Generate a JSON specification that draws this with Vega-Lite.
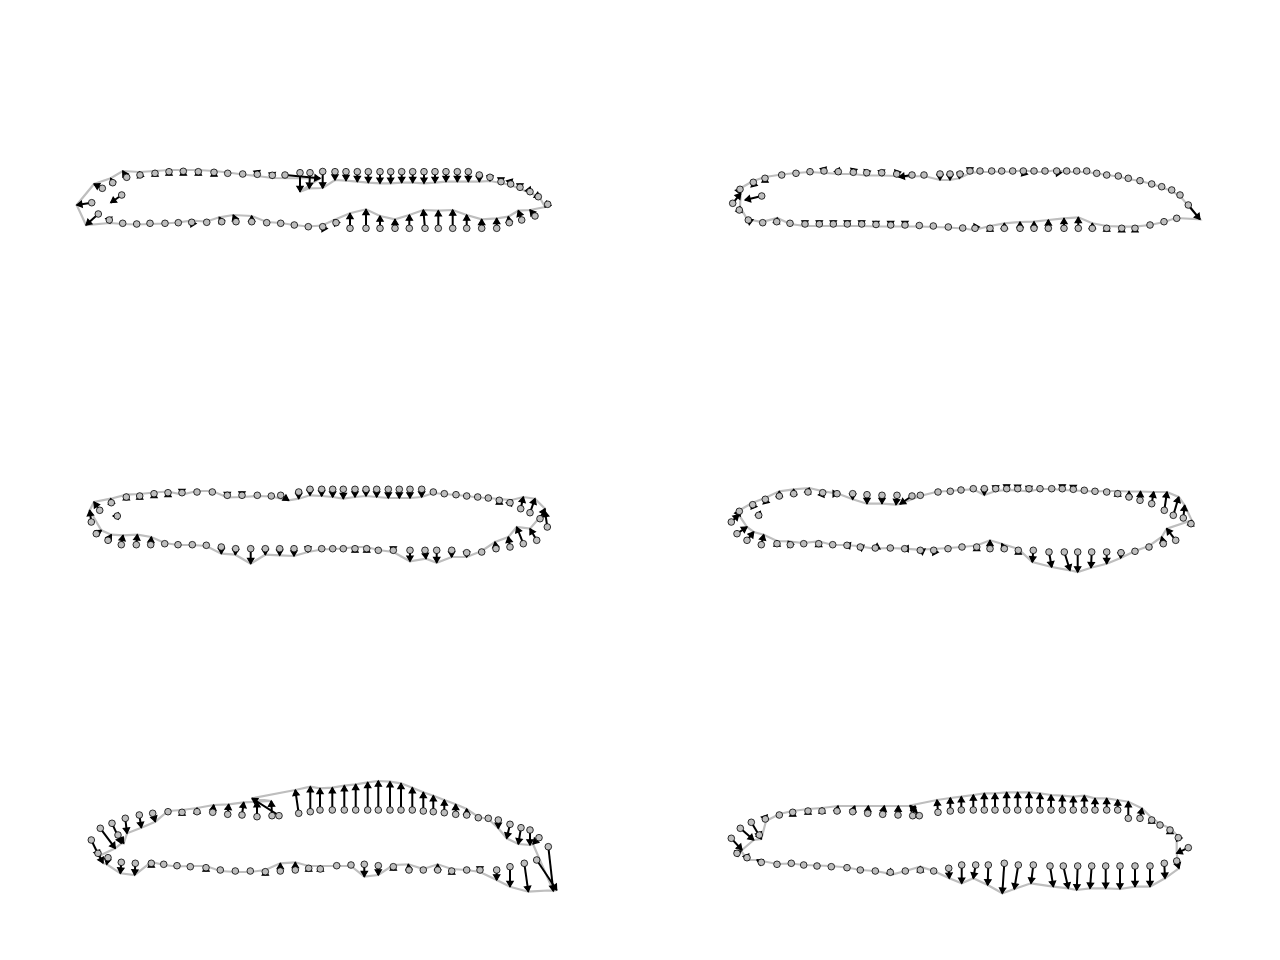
{
"$schema":"https://vega.github.io/schema/vega-lite/v6.json",
"width":1280,"height":960,"autosize":{"type":"fit","contains":"padding"},"padding":0,
"background":"white",
"config":{"view":{"stroke":null}},
"data":{"values":[
{"p":1,"i":1,"x":91.7,"y":202.7,"tx":76.7,"ty":205},
{"p":1,"i":2,"x":102.3,"y":188.3,"tx":94,"ty":184},
{"p":1,"i":3,"x":112.7,"y":182.7,"tx":110.7,"ty":178.3},
{"p":1,"i":4,"x":126.7,"y":177.3,"tx":122.7,"ty":171},
{"p":1,"i":5,"x":140,"y":175,"tx":139.3,"ty":172},
{"p":1,"i":6,"x":155,"y":173.3,"tx":155,"ty":171},
{"p":1,"i":7,"x":169,"y":171.7,"tx":169,"ty":170},
{"p":1,"i":8,"x":183.3,"y":171.3,"tx":183.3,"ty":170},
{"p":1,"i":9,"x":198.3,"y":171.7,"tx":198.3,"ty":170},
{"p":1,"i":10,"x":214,"y":172.3,"tx":214,"ty":171},
{"p":1,"i":11,"x":227.7,"y":173.3,"tx":228,"ty":172.5},
{"p":1,"i":12,"x":242.7,"y":174,"tx":243,"ty":174.5},
{"p":1,"i":13,"x":257.3,"y":174.3,"tx":257.5,"ty":176},
{"p":1,"i":14,"x":272.3,"y":175.3,"tx":272.5,"ty":178},
{"p":1,"i":15,"x":285,"y":175,"tx":320,"ty":178.3},
{"p":1,"i":16,"x":300,"y":172.7,"tx":300,"ty":191.7},
{"p":1,"i":17,"x":310,"y":172.7,"tx":309.3,"ty":188.3},
{"p":1,"i":18,"x":322.7,"y":171.5,"tx":322.7,"ty":188},
{"p":1,"i":19,"x":335,"y":171.7,"tx":335,"ty":180},
{"p":1,"i":20,"x":346,"y":171.7,"tx":346,"ty":180.7},
{"p":1,"i":21,"x":357.3,"y":171.7,"tx":357.3,"ty":181.7},
{"p":1,"i":22,"x":368.3,"y":171.7,"tx":368.3,"ty":182.7},
{"p":1,"i":23,"x":380,"y":171.7,"tx":380,"ty":183.3},
{"p":1,"i":24,"x":390.7,"y":171.7,"tx":390.7,"ty":183.3},
{"p":1,"i":25,"x":401.7,"y":171.7,"tx":401.7,"ty":182.7},
{"p":1,"i":26,"x":412.7,"y":171.7,"tx":412.7,"ty":182.7},
{"p":1,"i":27,"x":424,"y":171.7,"tx":424,"ty":183.3},
{"p":1,"i":28,"x":435,"y":171.7,"tx":435,"ty":182.7},
{"p":1,"i":29,"x":446,"y":171.7,"tx":446,"ty":181.7},
{"p":1,"i":30,"x":457.3,"y":171.7,"tx":457.3,"ty":181.7},
{"p":1,"i":31,"x":468.3,"y":171.7,"tx":468.3,"ty":181.7},
{"p":1,"i":32,"x":479.3,"y":175,"tx":479.3,"ty":181.7},
{"p":1,"i":33,"x":490,"y":177.3,"tx":490,"ty":181},
{"p":1,"i":34,"x":501,"y":181.7,"tx":501,"ty":183},
{"p":1,"i":35,"x":510.7,"y":184,"tx":511,"ty":185},
{"p":1,"i":36,"x":520,"y":187.3,"tx":520,"ty":189},
{"p":1,"i":37,"x":530,"y":191.7,"tx":531,"ty":193},
{"p":1,"i":38,"x":538.3,"y":196.7,"tx":540,"ty":198},
{"p":1,"i":39,"x":547.7,"y":204.3,"tx":545,"ty":207},
{"p":1,"i":40,"x":535,"y":216,"tx":530,"ty":210},
{"p":1,"i":41,"x":521.7,"y":220,"tx":518.3,"ty":210.7},
{"p":1,"i":42,"x":509.3,"y":222.7,"tx":508.3,"ty":216.7},
{"p":1,"i":43,"x":496.7,"y":228.3,"tx":496.7,"ty":218.3},
{"p":1,"i":44,"x":481.7,"y":228.3,"tx":481.7,"ty":219.3},
{"p":1,"i":45,"x":466.7,"y":228.3,"tx":466.7,"ty":215},
{"p":1,"i":46,"x":452.7,"y":228.3,"tx":452.7,"ty":210},
{"p":1,"i":47,"x":438.3,"y":228.3,"tx":438.3,"ty":210.7},
{"p":1,"i":48,"x":425,"y":228.3,"tx":423.3,"ty":210},
{"p":1,"i":49,"x":409.3,"y":228.3,"tx":409.3,"ty":215},
{"p":1,"i":50,"x":395,"y":228.3,"tx":395,"ty":219.3},
{"p":1,"i":51,"x":380,"y":228.3,"tx":380,"ty":216},
{"p":1,"i":52,"x":366,"y":228.3,"tx":366,"ty":209.3},
{"p":1,"i":53,"x":350,"y":228.3,"tx":350,"ty":213.3},
{"p":1,"i":54,"x":336,"y":222.7,"tx":334,"ty":220},
{"p":1,"i":55,"x":322.7,"y":226.7,"tx":322,"ty":225.5},
{"p":1,"i":56,"x":308.3,"y":226.7,"tx":308,"ty":226.5},
{"p":1,"i":57,"x":294.3,"y":225,"tx":294,"ty":225},
{"p":1,"i":58,"x":280.7,"y":223.3,"tx":280.7,"ty":223},
{"p":1,"i":59,"x":266.7,"y":222.7,"tx":266.7,"ty":222},
{"p":1,"i":60,"x":251.7,"y":221.7,"tx":251.7,"ty":216},
{"p":1,"i":61,"x":236,"y":221.7,"tx":233.3,"ty":215},
{"p":1,"i":62,"x":221.7,"y":221.7,"tx":219.3,"ty":217.3},
{"p":1,"i":63,"x":206.7,"y":222.3,"tx":206.7,"ty":221.5},
{"p":1,"i":64,"x":191.7,"y":222.3,"tx":190.7,"ty":220.7},
{"p":1,"i":65,"x":178.3,"y":222.7,"tx":178,"ty":222.5},
{"p":1,"i":66,"x":165,"y":223.3,"tx":165,"ty":223.5},
{"p":1,"i":67,"x":150,"y":223.3,"tx":150,"ty":224},
{"p":1,"i":68,"x":136.7,"y":224,"tx":136.7,"ty":224.5},
{"p":1,"i":69,"x":122.7,"y":223.3,"tx":122.7,"ty":224},
{"p":1,"i":70,"x":109.3,"y":220,"tx":110,"ty":223},
{"p":1,"i":71,"x":98.3,"y":214,"tx":86,"ty":225},
{"p":1,"i":-1,"x":121.7,"y":195,"tx":110.7,"ty":202.7},

{"p":2,"i":1,"x":732.7,"y":203.3,"tx":740.7,"ty":193.3},
{"p":2,"i":2,"x":740,"y":189.3,"tx":741,"ty":188},
{"p":2,"i":3,"x":753.3,"y":182.3,"tx":753,"ty":181},
{"p":2,"i":4,"x":765,"y":178.3,"tx":765,"ty":177},
{"p":2,"i":5,"x":781.7,"y":175,"tx":781.7,"ty":174.5},
{"p":2,"i":6,"x":796,"y":173.3,"tx":796,"ty":173},
{"p":2,"i":7,"x":810,"y":171.7,"tx":810,"ty":172},
{"p":2,"i":8,"x":824,"y":171,"tx":824.5,"ty":173},
{"p":2,"i":9,"x":838.3,"y":171.7,"tx":840,"ty":174},
{"p":2,"i":10,"x":853.3,"y":172.3,"tx":853,"ty":174},
{"p":2,"i":11,"x":866.7,"y":172.7,"tx":866,"ty":175.5},
{"p":2,"i":12,"x":881.7,"y":172.7,"tx":882,"ty":175.5},
{"p":2,"i":13,"x":896.7,"y":174,"tx":896,"ty":176},
{"p":2,"i":14,"x":912,"y":175,"tx":899,"ty":177},
{"p":2,"i":15,"x":924,"y":175,"tx":924,"ty":176},
{"p":2,"i":16,"x":940,"y":174,"tx":940,"ty":180},
{"p":2,"i":17,"x":950,"y":174,"tx":950,"ty":180},
{"p":2,"i":18,"x":960,"y":174,"tx":959.3,"ty":178.3},
{"p":2,"i":19,"x":970,"y":171,"tx":970,"ty":173},
{"p":2,"i":20,"x":980,"y":171,"tx":980,"ty":172},
{"p":2,"i":21,"x":991.7,"y":171,"tx":991.7,"ty":172},
{"p":2,"i":22,"x":1001.7,"y":171,"tx":1001.7,"ty":171.5},
{"p":2,"i":23,"x":1012.7,"y":171,"tx":1012.7,"ty":172},
{"p":2,"i":24,"x":1023.3,"y":171,"tx":1023,"ty":170},
{"p":2,"i":25,"x":1034,"y":171,"tx":1034,"ty":172},
{"p":2,"i":26,"x":1045,"y":171,"tx":1045,"ty":172},
{"p":2,"i":27,"x":1056.7,"y":171,"tx":1056,"ty":170},
{"p":2,"i":28,"x":1066.7,"y":171,"tx":1066.7,"ty":172},
{"p":2,"i":29,"x":1076.7,"y":171,"tx":1076.7,"ty":172},
{"p":2,"i":30,"x":1086.7,"y":171,"tx":1086.7,"ty":172},
{"p":2,"i":31,"x":1096.7,"y":173.3,"tx":1096.7,"ty":173.5},
{"p":2,"i":32,"x":1106.7,"y":175,"tx":1106.7,"ty":175},
{"p":2,"i":33,"x":1118.3,"y":176,"tx":1118.3,"ty":176.5},
{"p":2,"i":34,"x":1128.3,"y":178.3,"tx":1128.3,"ty":179},
{"p":2,"i":35,"x":1140,"y":180.7,"tx":1140,"ty":181},
{"p":2,"i":36,"x":1151.7,"y":184,"tx":1151.7,"ty":184},
{"p":2,"i":37,"x":1161.7,"y":186.7,"tx":1161,"ty":187},
{"p":2,"i":38,"x":1171.7,"y":190,"tx":1171.7,"ty":191},
{"p":2,"i":39,"x":1180,"y":195,"tx":1180,"ty":196},
{"p":2,"i":40,"x":1188.3,"y":205,"tx":1200,"ty":219.3},
{"p":2,"i":41,"x":1176.7,"y":218.3,"tx":1176,"ty":218},
{"p":2,"i":42,"x":1164,"y":221.7,"tx":1164,"ty":222},
{"p":2,"i":43,"x":1150,"y":225,"tx":1150,"ty":225},
{"p":2,"i":44,"x":1135,"y":228.3,"tx":1135,"ty":226.7},
{"p":2,"i":45,"x":1121.7,"y":228.3,"tx":1121.7,"ty":226.7},
{"p":2,"i":46,"x":1106.7,"y":228.3,"tx":1106.7,"ty":226},
{"p":2,"i":47,"x":1092.3,"y":228.3,"tx":1092.3,"ty":223.3},
{"p":2,"i":48,"x":1078.3,"y":228.3,"tx":1078.3,"ty":217.3},
{"p":2,"i":49,"x":1064,"y":228.3,"tx":1064,"ty":218.3},
{"p":2,"i":50,"x":1048.3,"y":228.3,"tx":1048.3,"ty":220},
{"p":2,"i":51,"x":1034,"y":228.3,"tx":1034,"ty":221.7},
{"p":2,"i":52,"x":1020,"y":228.3,"tx":1020,"ty":222},
{"p":2,"i":53,"x":1004.3,"y":228.3,"tx":1004.3,"ty":223.3},
{"p":2,"i":54,"x":990,"y":228.3,"tx":990,"ty":226},
{"p":2,"i":55,"x":975,"y":228.3,"tx":974,"ty":230},
{"p":2,"i":56,"x":962.7,"y":228,"tx":962.7,"ty":228.5},
{"p":2,"i":57,"x":948.3,"y":227,"tx":948.3,"ty":227.5},
{"p":2,"i":58,"x":933.3,"y":226,"tx":933.3,"ty":227},
{"p":2,"i":59,"x":919.3,"y":225.5,"tx":919.3,"ty":226.5},
{"p":2,"i":60,"x":905,"y":225,"tx":905,"ty":226.5},
{"p":2,"i":61,"x":890.7,"y":225,"tx":890.7,"ty":226.5},
{"p":2,"i":62,"x":876,"y":224.5,"tx":876,"ty":226.5},
{"p":2,"i":63,"x":861.7,"y":224,"tx":861.7,"ty":226},
{"p":2,"i":64,"x":847.3,"y":224,"tx":847.3,"ty":226},
{"p":2,"i":65,"x":833.3,"y":224,"tx":833.3,"ty":226},
{"p":2,"i":66,"x":819.3,"y":224,"tx":819.3,"ty":226},
{"p":2,"i":67,"x":805,"y":224,"tx":805,"ty":226},
{"p":2,"i":68,"x":790,"y":223.3,"tx":790,"ty":224},
{"p":2,"i":69,"x":776.7,"y":221.7,"tx":777.3,"ty":218},
{"p":2,"i":70,"x":762.7,"y":222.7,"tx":762,"ty":222},
{"p":2,"i":71,"x":748.3,"y":220,"tx":747,"ty":219},
{"p":2,"i":72,"x":739.3,"y":210,"tx":740,"ty":206.7},
{"p":2,"i":-1,"x":761.7,"y":196,"tx":745,"ty":200},

{"p":3,"i":1,"x":91.3,"y":522,"tx":89.7,"ty":510.3},
{"p":3,"i":2,"x":99.7,"y":510.3,"tx":94,"ty":502},
{"p":3,"i":3,"x":111.3,"y":502.7,"tx":110.7,"ty":498.7},
{"p":3,"i":4,"x":126.3,"y":497,"tx":126.3,"ty":494.7},
{"p":3,"i":5,"x":139.7,"y":496,"tx":139.7,"ty":494},
{"p":3,"i":6,"x":154,"y":493.7,"tx":154,"ty":492.5},
{"p":3,"i":7,"x":168,"y":492.7,"tx":168,"ty":491.5},
{"p":3,"i":8,"x":182,"y":492.7,"tx":182,"ty":494.5},
{"p":3,"i":9,"x":197,"y":492,"tx":197,"ty":491},
{"p":3,"i":10,"x":212.3,"y":492,"tx":212.3,"ty":491},
{"p":3,"i":11,"x":227.3,"y":495.3,"tx":227.3,"ty":497.5},
{"p":3,"i":12,"x":242,"y":495.3,"tx":242,"ty":497},
{"p":3,"i":13,"x":257.3,"y":495.3,"tx":257.3,"ty":496},
{"p":3,"i":14,"x":271.3,"y":496,"tx":271.5,"ty":496.5},
{"p":3,"i":15,"x":280.7,"y":495.3,"tx":288.7,"ty":500.3},
{"p":3,"i":16,"x":298.7,"y":492,"tx":298.7,"ty":498.7},
{"p":3,"i":17,"x":310,"y":489.3,"tx":310,"ty":495.3},
{"p":3,"i":18,"x":321.7,"y":489.3,"tx":321.7,"ty":496},
{"p":3,"i":19,"x":332.7,"y":489.3,"tx":332.7,"ty":497},
{"p":3,"i":20,"x":343.3,"y":489.3,"tx":343.3,"ty":498.7},
{"p":3,"i":21,"x":355,"y":489.3,"tx":355,"ty":497},
{"p":3,"i":22,"x":366,"y":489.3,"tx":366,"ty":496},
{"p":3,"i":23,"x":376.7,"y":489.3,"tx":376.7,"ty":497},
{"p":3,"i":24,"x":388.3,"y":489.3,"tx":388.3,"ty":498},
{"p":3,"i":25,"x":399.3,"y":489.3,"tx":399.3,"ty":498},
{"p":3,"i":26,"x":410,"y":489.3,"tx":410,"ty":498},
{"p":3,"i":27,"x":421.7,"y":489.3,"tx":421.7,"ty":497},
{"p":3,"i":28,"x":433.3,"y":492,"tx":433.3,"ty":493},
{"p":3,"i":29,"x":444.3,"y":493.7,"tx":444.3,"ty":494},
{"p":3,"i":30,"x":456,"y":494.7,"tx":456,"ty":495},
{"p":3,"i":31,"x":466.7,"y":496,"tx":466.7,"ty":496},
{"p":3,"i":32,"x":477.7,"y":497,"tx":477.7,"ty":497.5},
{"p":3,"i":33,"x":488.3,"y":498,"tx":488.3,"ty":498},
{"p":3,"i":34,"x":499.3,"y":500.3,"tx":499.3,"ty":499},
{"p":3,"i":35,"x":510,"y":502.7,"tx":511.7,"ty":500},
{"p":3,"i":36,"x":520.7,"y":508.7,"tx":523.3,"ty":497},
{"p":3,"i":37,"x":530,"y":512.7,"tx":535,"ty":498.7},
{"p":3,"i":38,"x":540,"y":518.7,"tx":545,"ty":508.7},
{"p":3,"i":39,"x":547.3,"y":527,"tx":545,"ty":511.3},
{"p":3,"i":40,"x":536.7,"y":540.3,"tx":530,"ty":528.7},
{"p":3,"i":41,"x":523.3,"y":543.7,"tx":516.7,"ty":527},
{"p":3,"i":42,"x":510,"y":547,"tx":508.3,"ty":537},
{"p":3,"i":43,"x":496,"y":548.7,"tx":495,"ty":542},
{"p":3,"i":44,"x":481.7,"y":552,"tx":481.7,"ty":551},
{"p":3,"i":45,"x":466.7,"y":552.7,"tx":466.7,"ty":557},
{"p":3,"i":46,"x":451.7,"y":550.3,"tx":451.7,"ty":557},
{"p":3,"i":47,"x":436.7,"y":550.3,"tx":436.7,"ty":562.7},
{"p":3,"i":48,"x":425,"y":550.3,"tx":426,"ty":558.7},
{"p":3,"i":49,"x":410,"y":550.3,"tx":410,"ty":561.3},
{"p":3,"i":50,"x":393.3,"y":550.3,"tx":393.3,"ty":552},
{"p":3,"i":51,"x":378.3,"y":550.3,"tx":378.3,"ty":550},
{"p":3,"i":52,"x":366.7,"y":548.7,"tx":366.7,"ty":547},
{"p":3,"i":53,"x":355,"y":548.7,"tx":355,"ty":547},
{"p":3,"i":54,"x":343.3,"y":548.7,"tx":343.3,"ty":548.5},
{"p":3,"i":55,"x":332.7,"y":548.7,"tx":332.7,"ty":549},
{"p":3,"i":56,"x":321.7,"y":548.7,"tx":321.7,"ty":549.5},
{"p":3,"i":57,"x":308,"y":548.7,"tx":308,"ty":552},
{"p":3,"i":58,"x":294,"y":548.7,"tx":294,"ty":556},
{"p":3,"i":59,"x":279.7,"y":548.7,"tx":279.7,"ty":555.3},
{"p":3,"i":60,"x":265.3,"y":548.7,"tx":265.3,"ty":554.7},
{"p":3,"i":61,"x":250.7,"y":548.7,"tx":250.7,"ty":563.7},
{"p":3,"i":62,"x":235.7,"y":548.7,"tx":235.3,"ty":554.7},
{"p":3,"i":63,"x":221.3,"y":547,"tx":221.3,"ty":553.7},
{"p":3,"i":64,"x":206.3,"y":545.3,"tx":206.3,"ty":546},
{"p":3,"i":65,"x":192.3,"y":544.7,"tx":192.3,"ty":545},
{"p":3,"i":66,"x":178,"y":544.7,"tx":178,"ty":545},
{"p":3,"i":67,"x":164.7,"y":543.7,"tx":164.7,"ty":543},
{"p":3,"i":68,"x":150.7,"y":544.7,"tx":151.3,"ty":537},
{"p":3,"i":69,"x":136.3,"y":544.7,"tx":137.3,"ty":534.7},
{"p":3,"i":70,"x":121.3,"y":544.7,"tx":123,"ty":535.3},
{"p":3,"i":71,"x":108,"y":540.3,"tx":111.3,"ty":534.7},
{"p":3,"i":72,"x":96.3,"y":533.7,"tx":101.3,"ty":530.3},
{"p":3,"i":-1,"x":117.3,"y":516,"tx":113,"ty":516},

{"p":4,"i":1,"x":731.3,"y":522,"tx":738.7,"ty":514.7},
{"p":4,"i":2,"x":739.3,"y":511.3,"tx":740,"ty":510},
{"p":4,"i":3,"x":752.7,"y":504.7,"tx":752,"ty":503},
{"p":4,"i":4,"x":765.3,"y":499.3,"tx":765,"ty":498},
{"p":4,"i":5,"x":779.3,"y":496,"tx":779.3,"ty":491.3},
{"p":4,"i":6,"x":793.7,"y":493.7,"tx":793.7,"ty":489.3},
{"p":4,"i":7,"x":808,"y":492,"tx":809.3,"ty":488},
{"p":4,"i":8,"x":822.7,"y":492.7,"tx":823.3,"ty":491.3},
{"p":4,"i":9,"x":837,"y":493.7,"tx":838.3,"ty":493.7},
{"p":4,"i":10,"x":852.7,"y":493.7,"tx":852.7,"ty":499.3},
{"p":4,"i":11,"x":867,"y":494.7,"tx":867,"ty":503.7},
{"p":4,"i":12,"x":882,"y":495.3,"tx":882,"ty":503.7},
{"p":4,"i":13,"x":897,"y":495.3,"tx":896,"ty":504.7},
{"p":4,"i":14,"x":912,"y":496,"tx":900,"ty":504},
{"p":4,"i":15,"x":920.3,"y":495.3,"tx":920,"ty":496},
{"p":4,"i":16,"x":938,"y":492,"tx":938,"ty":491.5},
{"p":4,"i":17,"x":950.3,"y":491.3,"tx":950.3,"ty":491},
{"p":4,"i":18,"x":961,"y":490,"tx":961,"ty":490},
{"p":4,"i":19,"x":973.3,"y":488.7,"tx":973.3,"ty":489.3},
{"p":4,"i":20,"x":984.3,"y":488.7,"tx":984.3,"ty":495},
{"p":4,"i":21,"x":995.7,"y":488.7,"tx":995.7,"ty":491},
{"p":4,"i":22,"x":1006.7,"y":488.7,"tx":1006.7,"ty":490},
{"p":4,"i":23,"x":1017.7,"y":488.7,"tx":1017.7,"ty":490.3},
{"p":4,"i":24,"x":1029,"y":488.7,"tx":1029,"ty":491.5},
{"p":4,"i":25,"x":1040,"y":488.7,"tx":1040,"ty":489},
{"p":4,"i":26,"x":1051.7,"y":488.7,"tx":1051.7,"ty":489},
{"p":4,"i":27,"x":1062.3,"y":488.7,"tx":1062.3,"ty":490},
{"p":4,"i":28,"x":1073.3,"y":489.3,"tx":1073.3,"ty":490.5},
{"p":4,"i":29,"x":1084.3,"y":490.3,"tx":1084.3,"ty":491},
{"p":4,"i":30,"x":1095,"y":491.3,"tx":1095,"ty":491.5},
{"p":4,"i":31,"x":1106.7,"y":492,"tx":1106.7,"ty":491},
{"p":4,"i":32,"x":1117.7,"y":493.7,"tx":1117.7,"ty":491},
{"p":4,"i":33,"x":1129,"y":497,"tx":1129,"ty":491.5},
{"p":4,"i":34,"x":1140,"y":500.3,"tx":1140.5,"ty":491.5},
{"p":4,"i":35,"x":1151.7,"y":503.7,"tx":1153.7,"ty":492},
{"p":4,"i":36,"x":1164.3,"y":510.3,"tx":1167,"ty":492},
{"p":4,"i":37,"x":1173.3,"y":515.3,"tx":1178.7,"ty":497},
{"p":4,"i":38,"x":1183.3,"y":518,"tx":1184.7,"ty":505.3},
{"p":4,"i":39,"x":1191,"y":523.7,"tx":1191.7,"ty":520.3},
{"p":4,"i":40,"x":1175.7,"y":540.3,"tx":1166.7,"ty":528.7},
{"p":4,"i":41,"x":1163.3,"y":543.7,"tx":1161.7,"ty":537},
{"p":4,"i":42,"x":1149,"y":547,"tx":1149,"ty":546},
{"p":4,"i":43,"x":1135,"y":551.3,"tx":1135,"ty":551},
{"p":4,"i":44,"x":1121,"y":552.7,"tx":1120.7,"ty":558},
{"p":4,"i":45,"x":1106.7,"y":552,"tx":1106.7,"ty":563.7},
{"p":4,"i":46,"x":1091.7,"y":552,"tx":1091,"ty":567.7},
{"p":4,"i":47,"x":1077.7,"y":552,"tx":1077.7,"ty":572},
{"p":4,"i":48,"x":1064.3,"y":552,"tx":1070,"ty":570.3},
{"p":4,"i":49,"x":1049,"y":552,"tx":1051.7,"ty":567},
{"p":4,"i":50,"x":1033.3,"y":550.3,"tx":1032.3,"ty":562},
{"p":4,"i":51,"x":1018.3,"y":550.3,"tx":1018.3,"ty":549},
{"p":4,"i":52,"x":1004.3,"y":548.7,"tx":1001.7,"ty":543.7},
{"p":4,"i":53,"x":990,"y":548.7,"tx":990,"ty":540.3},
{"p":4,"i":54,"x":976.7,"y":547,"tx":976.7,"ty":545.5},
{"p":4,"i":55,"x":962,"y":547,"tx":962,"ty":547},
{"p":4,"i":56,"x":948,"y":548.7,"tx":948,"ty":548},
{"p":4,"i":57,"x":933.7,"y":550.3,"tx":933,"ty":549},
{"p":4,"i":58,"x":920.3,"y":550.3,"tx":919,"ty":549.7},
{"p":4,"i":59,"x":904.7,"y":548.7,"tx":903,"ty":548.7},
{"p":4,"i":60,"x":890.3,"y":548,"tx":890.3,"ty":548},
{"p":4,"i":61,"x":875.3,"y":548,"tx":874,"ty":548.7},
{"p":4,"i":62,"x":860.3,"y":547,"tx":858,"ty":546},
{"p":4,"i":63,"x":847,"y":545.3,"tx":845,"ty":545},
{"p":4,"i":64,"x":832.7,"y":544.7,"tx":832.7,"ty":545},
{"p":4,"i":65,"x":818.7,"y":543.7,"tx":818.7,"ty":541.3},
{"p":4,"i":66,"x":803.7,"y":543.7,"tx":803,"ty":543},
{"p":4,"i":67,"x":790.3,"y":544.7,"tx":788.3,"ty":541.3},
{"p":4,"i":68,"x":777,"y":543.7,"tx":777,"ty":541},
{"p":4,"i":69,"x":761.3,"y":544.7,"tx":763.7,"ty":534.7},
{"p":4,"i":70,"x":747,"y":540.3,"tx":753.7,"ty":532},
{"p":4,"i":71,"x":737,"y":533.7,"tx":747,"ty":527},
{"p":4,"i":-1,"x":758.7,"y":515.3,"tx":760.3,"ty":511.3},

{"p":5,"i":1,"x":91.3,"y":840,"tx":99,"ty":856},
{"p":5,"i":2,"x":100.3,"y":828.3,"tx":115.3,"ty":848.3},
{"p":5,"i":3,"x":112,"y":823.3,"tx":121.3,"ty":843.3},
{"p":5,"i":4,"x":118,"y":835,"tx":123.7,"ty":843.3},
{"p":5,"i":5,"x":125.3,"y":818.3,"tx":127,"ty":833.3},
{"p":5,"i":6,"x":139.3,"y":815,"tx":141.3,"ty":827.7},
{"p":5,"i":7,"x":152.7,"y":813.3,"tx":155.3,"ty":821.7},
{"p":5,"i":8,"x":168,"y":811.7,"tx":168,"ty":811},
{"p":5,"i":9,"x":182,"y":812.3,"tx":182,"ty":810},
{"p":5,"i":10,"x":197,"y":811.7,"tx":197,"ty":808},
{"p":5,"i":11,"x":212.7,"y":812.3,"tx":213.7,"ty":805},
{"p":5,"i":12,"x":227.7,"y":814.3,"tx":228.7,"ty":804.3},
{"p":5,"i":13,"x":242,"y":815,"tx":243.7,"ty":802.3},
{"p":5,"i":14,"x":257,"y":816.7,"tx":257,"ty":801.7},
{"p":5,"i":15,"x":272,"y":815.7,"tx":271.3,"ty":801},
{"p":5,"i":16,"x":279,"y":815.7,"tx":252,"ty":798.3},
{"p":5,"i":17,"x":298.7,"y":813.3,"tx":295.3,"ty":790},
{"p":5,"i":18,"x":310.3,"y":811.7,"tx":310.3,"ty":786.7},
{"p":5,"i":19,"x":320,"y":810,"tx":320,"ty":788.3},
{"p":5,"i":20,"x":332.3,"y":810,"tx":332.3,"ty":787.7},
{"p":5,"i":21,"x":344.3,"y":810,"tx":344.3,"ty":785.7},
{"p":5,"i":22,"x":355.7,"y":810,"tx":355.7,"ty":784.3},
{"p":5,"i":23,"x":367.7,"y":810,"tx":367.7,"ty":782.3},
{"p":5,"i":24,"x":378.3,"y":810,"tx":378.3,"ty":781},
{"p":5,"i":25,"x":390,"y":810,"tx":390,"ty":781.7},
{"p":5,"i":26,"x":401,"y":810,"tx":401,"ty":783.3},
{"p":5,"i":27,"x":412.3,"y":810,"tx":412.3,"ty":787.7},
{"p":5,"i":28,"x":423.3,"y":811,"tx":423.3,"ty":792.3},
{"p":5,"i":29,"x":433.3,"y":811.7,"tx":433.3,"ty":795.7},
{"p":5,"i":30,"x":444.3,"y":812.7,"tx":444.3,"ty":800},
{"p":5,"i":31,"x":455.7,"y":814.3,"tx":455.7,"ty":804.3},
{"p":5,"i":32,"x":466.7,"y":815,"tx":466.7,"ty":809},
{"p":5,"i":33,"x":478.3,"y":817.7,"tx":478.3,"ty":817},
{"p":5,"i":34,"x":488.3,"y":818.3,"tx":488.3,"ty":819},
{"p":5,"i":35,"x":498.3,"y":820,"tx":498.3,"ty":828.3},
{"p":5,"i":36,"x":510,"y":824.3,"tx":506.7,"ty":838.3},
{"p":5,"i":37,"x":521,"y":827.7,"tx":518.3,"ty":844},
{"p":5,"i":38,"x":530,"y":830,"tx":530,"ty":845},
{"p":5,"i":39,"x":539,"y":837.7,"tx":533,"ty":844},
{"p":5,"i":40,"x":548.3,"y":846.7,"tx":553.3,"ty":891},
{"p":5,"i":41,"x":536.7,"y":860,"tx":556.7,"ty":890},
{"p":5,"i":42,"x":524.3,"y":863.3,"tx":528.3,"ty":891.7},
{"p":5,"i":43,"x":510,"y":866.7,"tx":510,"ty":886.7},
{"p":5,"i":44,"x":496.7,"y":870,"tx":496.7,"ty":880},
{"p":5,"i":45,"x":480,"y":870,"tx":480,"ty":872},
{"p":5,"i":46,"x":466.7,"y":870,"tx":466.7,"ty":870},
{"p":5,"i":47,"x":451.7,"y":871,"tx":451.7,"ty":869},
{"p":5,"i":48,"x":437.7,"y":870,"tx":437.7,"ty":864.3},
{"p":5,"i":49,"x":423.3,"y":870,"tx":423.3,"ty":869},
{"p":5,"i":50,"x":409,"y":870,"tx":408.3,"ty":864.3},
{"p":5,"i":51,"x":393.3,"y":866.7,"tx":393.3,"ty":865},
{"p":5,"i":52,"x":378.3,"y":865.7,"tx":378.3,"ty":875},
{"p":5,"i":53,"x":364.3,"y":864.3,"tx":364.3,"ty":876.7},
{"p":5,"i":54,"x":351,"y":865,"tx":351,"ty":866},
{"p":5,"i":55,"x":336.7,"y":865.7,"tx":336.7,"ty":866},
{"p":5,"i":56,"x":320.3,"y":869,"tx":320.3,"ty":866},
{"p":5,"i":57,"x":308.7,"y":868.3,"tx":308.7,"ty":866},
{"p":5,"i":58,"x":295.3,"y":870,"tx":295.3,"ty":862.3},
{"p":5,"i":59,"x":280.3,"y":871,"tx":280.3,"ty":863.3},
{"p":5,"i":60,"x":265.3,"y":871.7,"tx":265.3,"ty":870},
{"p":5,"i":61,"x":250.3,"y":871,"tx":250.3,"ty":872},
{"p":5,"i":62,"x":235.3,"y":871,"tx":235.3,"ty":872},
{"p":5,"i":63,"x":220.3,"y":870,"tx":220.3,"ty":871},
{"p":5,"i":64,"x":206,"y":867.7,"tx":206,"ty":866},
{"p":5,"i":65,"x":190.3,"y":866.7,"tx":190.3,"ty":866},
{"p":5,"i":66,"x":177,"y":865.7,"tx":177,"ty":866.5},
{"p":5,"i":67,"x":163.7,"y":864.3,"tx":164,"ty":865},
{"p":5,"i":68,"x":151.3,"y":863.3,"tx":151.3,"ty":862},
{"p":5,"i":69,"x":135.3,"y":863.3,"tx":134.7,"ty":875},
{"p":5,"i":70,"x":121.3,"y":862.3,"tx":120.3,"ty":873.3},
{"p":5,"i":71,"x":108,"y":857.7,"tx":106.7,"ty":864.3},
{"p":5,"i":72,"x":98,"y":853.3,"tx":103,"ty":863},

{"p":6,"i":1,"x":731.3,"y":838.3,"tx":742,"ty":850},
{"p":6,"i":2,"x":740.3,"y":828.3,"tx":753.7,"ty":840},
{"p":6,"i":3,"x":751.3,"y":822.3,"tx":761.3,"ty":839},
{"p":6,"i":4,"x":765.3,"y":819,"tx":766,"ty":821},
{"p":6,"i":5,"x":779.3,"y":815,"tx":779.3,"ty":814},
{"p":6,"i":6,"x":792.7,"y":812.3,"tx":792.7,"ty":811},
{"p":6,"i":7,"x":808,"y":811,"tx":808,"ty":809},
{"p":6,"i":8,"x":822,"y":811,"tx":822,"ty":808},
{"p":6,"i":9,"x":837,"y":811,"tx":838,"ty":806},
{"p":6,"i":10,"x":852.7,"y":811.7,"tx":854.7,"ty":806},
{"p":6,"i":11,"x":867.7,"y":813.3,"tx":868.3,"ty":806},
{"p":6,"i":12,"x":882.7,"y":814.3,"tx":884.3,"ty":806},
{"p":6,"i":13,"x":898,"y":815,"tx":898.3,"ty":806},
{"p":6,"i":14,"x":912.7,"y":815.7,"tx":915,"ty":806},
{"p":6,"i":15,"x":919.3,"y":815.7,"tx":910,"ty":805.5},
{"p":6,"i":16,"x":938,"y":812.3,"tx":937,"ty":800},
{"p":6,"i":17,"x":950.3,"y":811,"tx":950.3,"ty":798},
{"p":6,"i":18,"x":961.3,"y":810,"tx":961.3,"ty":796.7},
{"p":6,"i":19,"x":973.3,"y":810,"tx":973.3,"ty":795},
{"p":6,"i":20,"x":984.3,"y":810,"tx":984.3,"ty":793.3},
{"p":6,"i":21,"x":995,"y":810,"tx":995,"ty":793.3},
{"p":6,"i":22,"x":1006.7,"y":810,"tx":1006.7,"ty":792.3},
{"p":6,"i":23,"x":1017.7,"y":810,"tx":1017.7,"ty":792.3},
{"p":6,"i":24,"x":1029,"y":810,"tx":1029,"ty":792.3},
{"p":6,"i":25,"x":1040,"y":810,"tx":1040,"ty":793.3},
{"p":6,"i":26,"x":1051,"y":810,"tx":1051,"ty":795},
{"p":6,"i":27,"x":1062.3,"y":810,"tx":1062.3,"ty":795.7},
{"p":6,"i":28,"x":1073.3,"y":810,"tx":1073.3,"ty":796.7},
{"p":6,"i":29,"x":1084.3,"y":810,"tx":1084.3,"ty":795.7},
{"p":6,"i":30,"x":1095,"y":810,"tx":1095,"ty":798.3},
{"p":6,"i":31,"x":1106.7,"y":810,"tx":1106.7,"ty":798.3},
{"p":6,"i":32,"x":1117.7,"y":810,"tx":1117.7,"ty":800},
{"p":6,"i":33,"x":1128.3,"y":818.3,"tx":1128.3,"ty":801.7},
{"p":6,"i":34,"x":1140,"y":818.3,"tx":1142,"ty":808.3},
{"p":6,"i":35,"x":1151.7,"y":820,"tx":1151.7,"ty":818},
{"p":6,"i":36,"x":1160,"y":825,"tx":1160,"ty":824},
{"p":6,"i":37,"x":1170,"y":830,"tx":1170,"ty":828.3},
{"p":6,"i":38,"x":1178.3,"y":837.7,"tx":1176.7,"ty":835},
{"p":6,"i":39,"x":1188.3,"y":847.7,"tx":1176.7,"ty":853.3},
{"p":6,"i":40,"x":1176.7,"y":861,"tx":1179,"ty":868.3},
{"p":6,"i":41,"x":1164.3,"y":863.3,"tx":1165,"ty":878.3},
{"p":6,"i":42,"x":1150,"y":866,"tx":1150,"ty":886.7},
{"p":6,"i":43,"x":1135,"y":866,"tx":1135,"ty":886.7},
{"p":6,"i":44,"x":1120,"y":866,"tx":1120,"ty":889},
{"p":6,"i":45,"x":1105.7,"y":866,"tx":1105.7,"ty":888.3},
{"p":6,"i":46,"x":1091.7,"y":866,"tx":1090,"ty":888.3},
{"p":6,"i":47,"x":1077.7,"y":866,"tx":1076.7,"ty":890},
{"p":6,"i":48,"x":1063.3,"y":866,"tx":1068.3,"ty":888.3},
{"p":6,"i":49,"x":1050,"y":866,"tx":1053.3,"ty":886.7},
{"p":6,"i":50,"x":1033.3,"y":865,"tx":1031,"ty":883.3},
{"p":6,"i":51,"x":1018.3,"y":865,"tx":1014.3,"ty":889},
{"p":6,"i":52,"x":1004.3,"y":863.3,"tx":1002.3,"ty":893.3},
{"p":6,"i":53,"x":988.3,"y":865,"tx":987.7,"ty":885},
{"p":6,"i":54,"x":975.7,"y":865,"tx":973.3,"ty":878.3},
{"p":6,"i":55,"x":961.7,"y":865,"tx":961.7,"ty":883.3},
{"p":6,"i":56,"x":948.7,"y":868.3,"tx":949.3,"ty":878.3},
{"p":6,"i":57,"x":933.7,"y":871,"tx":933.7,"ty":871},
{"p":6,"i":58,"x":920.3,"y":870,"tx":920.3,"ty":866.7},
{"p":6,"i":59,"x":905.3,"y":871,"tx":905.3,"ty":871},
{"p":6,"i":60,"x":890.3,"y":872.3,"tx":893,"ty":874.3},
{"p":6,"i":61,"x":875.3,"y":871,"tx":875.3,"ty":871},
{"p":6,"i":62,"x":860.3,"y":870,"tx":860.3,"ty":870},
{"p":6,"i":63,"x":847,"y":867.7,"tx":847,"ty":867.5},
{"p":6,"i":64,"x":831.3,"y":866.7,"tx":831.3,"ty":866},
{"p":6,"i":65,"x":817,"y":866,"tx":817,"ty":865.5},
{"p":6,"i":66,"x":803.7,"y":865,"tx":803.7,"ty":865},
{"p":6,"i":67,"x":791.3,"y":863.3,"tx":791.3,"ty":863.5},
{"p":6,"i":68,"x":777,"y":864.3,"tx":777,"ty":864},
{"p":6,"i":69,"x":761.3,"y":862.3,"tx":757,"ty":860},
{"p":6,"i":70,"x":747,"y":857.7,"tx":748,"ty":860},
{"p":6,"i":71,"x":737,"y":853.3,"tx":741,"ty":851},
{"p":6,"i":-1,"x":759.3,"y":835,"tx":760.3,"ty":837.7}
]},
"transform":[
{"calculate":"datum.tx - datum.x","as":"dx"},
{"calculate":"datum.ty - datum.y","as":"dy"},
{"calculate":"sqrt(datum.dx*datum.dx + datum.dy*datum.dy)","as":"len"},
{"calculate":"atan2(datum.dx, -datum.dy) * 180 / PI","as":"ang"}
],
"layer":[
{"transform":[{"filter":"datum.i > 0"}],
 "mark":{"type":"line","interpolate":"linear-closed","color":"#BEBEBE","strokeWidth":2.2},
 "encoding":{
  "x":{"field":"tx","type":"quantitative","scale":{"domain":[0,1280],"nice":false,"zero":false},"axis":null},
  "y":{"field":"ty","type":"quantitative","scale":{"domain":[0,960],"nice":false,"zero":false,"reverse":true},"axis":null},
  "detail":{"field":"p","type":"nominal"},
  "order":{"field":"i","type":"quantitative"}}},
{"transform":[{"filter":"datum.len > 1"}],
 "mark":{"type":"rule","color":"black","strokeWidth":2},
 "encoding":{
  "x":{"field":"x","type":"quantitative","scale":{"domain":[0,1280],"nice":false,"zero":false},"axis":null},
  "y":{"field":"y","type":"quantitative","scale":{"domain":[0,960],"nice":false,"zero":false,"reverse":true},"axis":null},
  "x2":{"field":"tx"},"y2":{"field":"ty"}}},
{"transform":[{"filter":"datum.len > 1"}],
 "mark":{"type":"point","shape":"M-0.6,1L0,0L0.6,1Z","filled":true,"fill":"black","stroke":"black","strokeWidth":1.2,"size":110,"opacity":1},
 "encoding":{
  "x":{"field":"tx","type":"quantitative","scale":{"domain":[0,1280],"nice":false,"zero":false},"axis":null},
  "y":{"field":"ty","type":"quantitative","scale":{"domain":[0,960],"nice":false,"zero":false,"reverse":true},"axis":null},
  "angle":{"field":"ang","type":"quantitative","scale":null}}},
{"mark":{"type":"point","shape":"circle","filled":true,"fill":"#BEBEBE","stroke":"black","strokeWidth":0.8,"size":44,"opacity":1},
 "encoding":{
  "x":{"field":"x","type":"quantitative","scale":{"domain":[0,1280],"nice":false,"zero":false},"axis":null},
  "y":{"field":"y","type":"quantitative","scale":{"domain":[0,960],"nice":false,"zero":false,"reverse":true},"axis":null}}}
]
}
